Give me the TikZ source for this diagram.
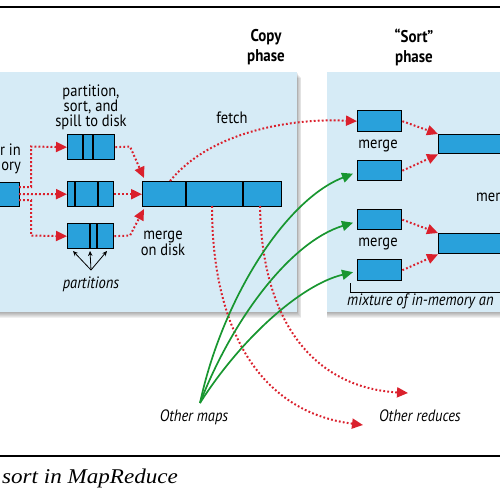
\documentclass[tikz,border=0pt]{standalone}
\usepackage{fontspec}
\setsansfont{PT Sans}[FakeStretch=0.88]
\setmainfont{Liberation Serif}[FakeStretch=1.1]
\usetikzlibrary{arrows.meta}
\definecolor{panelblue}{RGB}{214,235,246}
\definecolor{boxblue}{RGB}{41,161,219}
\definecolor{arrowred}{RGB}{218,32,44}
\definecolor{arrowgreen}{RGB}{24,150,48}
\begin{document}
\begin{tikzpicture}[x=1pt,y=-1pt,
  font=\sffamily\fontsize{16.5}{15}\selectfont,
  panel/.style={fill=panelblue,draw=none,inner sep=0pt,anchor=north west},
  blubox/.style={draw=black,line width=1.4pt,fill=boxblue,inner sep=0pt,anchor=north west},
  divline/.style={draw=black,line width=1.4pt},
  reddot/.style={draw=arrowred,line width=2pt,dash pattern=on 1.8pt off 2.2pt,
    -{Triangle[length=11pt,width=10pt,fill=arrowred]}},
  greenarr/.style={draw=arrowgreen,line width=1.7pt,-{Triangle[length=11pt,width=10pt]}},
  partarr/.style={draw=black,line width=0.8pt,-{Stealth[length=5pt,width=4.5pt]}},
  lbl/.style={inner sep=0pt,align=center},
  ilbl/.style={inner sep=0pt,font=\sffamily\itshape\fontsize{16.5}{15}\selectfont},
  phase/.style={inner sep=0pt,align=center,font=\sffamily\bfseries\fontsize{17}{20}\selectfont},
]
\useasboundingbox (0,0) rectangle (500,500);
% rules and caption
\draw[line width=1.3pt] (0,7) -- (500,7);
\draw[line width=1.3pt] (0,456) -- (500,456);
\node[inner sep=0pt,anchor=base west,font=\rmfamily\itshape\fontsize{21}{24}\selectfont] (cap) at (2,483) {sort in MapReduce};
% phase titles
\node[phase] (copyt) at (266,47) {Copy\\phase};
\node[phase] (sortt) at (414,47) {“Sort”\\phase};
% panel shadows
\foreach \d in {1,...,6}{
  \fill[black,opacity=0.06] (-10,72+\d) rectangle (297+0.7*\d,312+\d);
  \fill[black,opacity=0.06] (327,72+\d) rectangle (510,312+\d);
}
\node[panel,minimum width=307pt,minimum height=240pt] (copyp) at (-10,72) {};
\node[panel,minimum width=183pt,minimum height=240pt] (sortp) at (327,72) {};
% left text
\node[lbl,align=right,anchor=east] (buft) at (21,159) {r in\\ory};
\node[lbl] (pst) at (91,107) {partition,\\sort, and\\spill to disk};
\node[lbl] (fetcht) at (232,118) {fetch};
\node[lbl] (mdt) at (163,243) {merge\\on disk};
\node[ilbl] (partt) at (91,284) {partitions};
\node[lbl] (mg1) at (378,146) {merge};
\node[lbl] (mg2) at (378,244) {merge};
\node[lbl,anchor=west] (mg3) at (476,197) {mer};
\node[ilbl,anchor=west] (mixt) at (347,301) {mixture of in-memory an};
\node[ilbl] (omaps) at (194,417) {Other maps};
\node[ilbl] (ored) at (420,416) {Other reduces};
% boxes
\node[blubox,minimum width=40pt,minimum height=24pt] (buf) at (-21,182) {};
\node[blubox,minimum width=47pt,minimum height=25pt] (s1) at (67,134) {};
\node[blubox,minimum width=46pt,minimum height=25pt] (s2) at (67,181) {};
\node[blubox,minimum width=46pt,minimum height=25pt] (s3) at (67,223) {};
\node[blubox,minimum width=139pt,minimum height=25pt] (m) at (142,181) {};
\node[blubox,minimum width=44pt,minimum height=21pt] (b1) at (357,110) {};
\node[blubox,minimum width=44pt,minimum height=20pt] (b2) at (357,160) {};
\node[blubox,minimum width=44pt,minimum height=20pt] (b3) at (357,209) {};
\node[blubox,minimum width=44pt,minimum height=21pt] (b4) at (357,259) {};
\node[blubox,minimum width=80pt,minimum height=19pt] (B1) at (438,134) {};
\node[blubox,minimum width=80pt,minimum height=20pt] (B2) at (438,233) {};
% dividers
\draw[divline] ([xshift=16pt]s1.north west) -- ([xshift=16pt]s1.south west);
\draw[divline] ([xshift=26pt]s1.north west) -- ([xshift=26pt]s1.south west);
\draw[divline] ([xshift=8pt]s2.north west) -- ([xshift=8pt]s2.south west);
\draw[divline] ([xshift=31pt]s2.north west) -- ([xshift=31pt]s2.south west);
\draw[divline] ([xshift=23pt]s3.north west) -- ([xshift=23pt]s3.south west);
\draw[divline] ([xshift=30pt]s3.north west) -- ([xshift=30pt]s3.south west);
\draw[divline] ([xshift=44pt]m.north west) -- ([xshift=44pt]m.south west);
\draw[divline] ([xshift=101pt]m.north west) -- ([xshift=101pt]m.south west);
% coordinates
\coordinate (bo1) at (19,187);
\coordinate (bo2) at (19,194);
\coordinate (bo3) at (19,200);
\coordinate (mtip1) at (144,178);
\coordinate (mtip3) at (144,209);
\coordinate (fetchs) at (170,181);
\coordinate (d1) at (212,206);
\coordinate (d2) at (260,206);
\coordinate (rtip1) at (363,425);
\coordinate (rtip2) at (408,393);
\coordinate (g0) at (200,403);
\coordinate (p0) at (91,270);
% red dotted arrows, copy phase
\draw[reddot] (bo1) -- (31,187) -- (31,146.5) -- (s1.west);
\draw[reddot] (bo2) -- (s2.west);
\draw[reddot] (bo3) -- (31,200) -- (31,235.5) -- (s3.west);
\draw[reddot] (s1.east) -- (130,146.5) -- (mtip1);
\draw[reddot] (s2.east) -- (m.west);
\draw[reddot] (s3.east) -- (130,235.5) -- (mtip3);
\draw[reddot] (fetchs) .. controls (210,132) and (290,118) .. (b1.west);
\draw[reddot] (d1) .. controls (212,330) and (260,412) .. (rtip1);
\draw[reddot] (d2) .. controls (262,330) and (320,388) .. (rtip2);
% sort phase red arrows
\draw[reddot] (b1.east) -- (B1.north west);
\draw[reddot] (b2.east) -- (B1.south west);
\draw[reddot] (b3.east) -- (B2.north west);
\draw[reddot] (b4.east) -- (B2.south west);
% green arrows
\draw[greenarr] (g0) .. controls (222,300) and (285,200) .. ([xshift=-4pt,yshift=-3pt]b2.west);
\draw[greenarr] (g0) .. controls (232,320) and (290,242) .. ([xshift=-4pt,yshift=-3pt]b3.west);
\draw[greenarr] (g0) .. controls (240,340) and (300,285) .. ([xshift=-4pt,yshift=-2pt]b4.west);
% partitions arrows
\draw[partarr] (p0) -- (73,251);
\draw[partarr] (p0) -- (90,251);
\draw[partarr] (p0) -- (107,251);
% bracket
\draw[line width=0.9pt] (350,283) -- (350,292) -- (510,292);
\end{tikzpicture}
\end{document}
